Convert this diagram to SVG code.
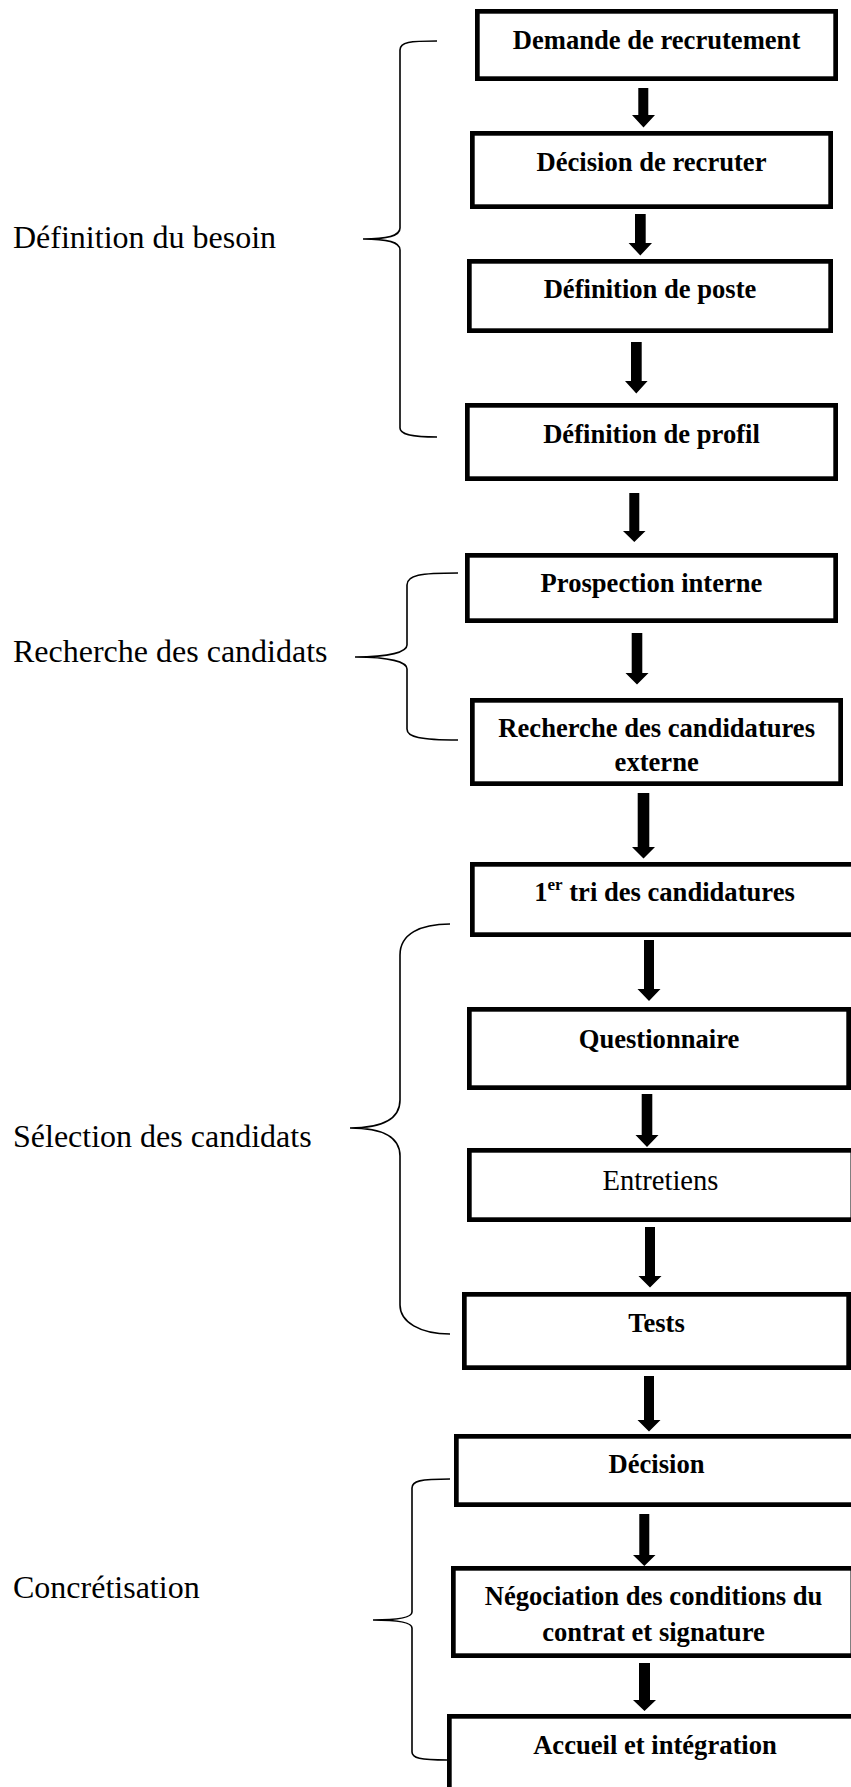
<svg xmlns="http://www.w3.org/2000/svg" width="851" height="1787" viewBox="0 0 851 1787">
<style>
.box{fill:#fff;stroke:#000;stroke-width:4.7}
.bt{font-family:"Liberation Serif","Times New Roman",serif;font-weight:bold;font-size:26.6px;text-anchor:middle;fill:#000}
.rt{font-family:"Liberation Serif","Times New Roman",serif;font-size:28.6px;text-anchor:middle;fill:#000}
.lbl{font-family:"Liberation Serif","Times New Roman",serif;font-size:32px;fill:#000}
.brace{fill:none;stroke:#000;stroke-width:1.6}
.arr{fill:#000}
</style>
<rect width="851" height="1787" fill="#fff"/>
<g id="labels">
<text class="lbl" x="13" y="248">Définition du besoin</text>
<text class="lbl" x="13" y="662">Recherche des candidats</text>
<text class="lbl" x="13" y="1147">Sélection des candidats</text>
<text class="lbl" x="13" y="1598">Concrétisation</text>
</g>
<g id="braces">
<path class="brace" d="M437,41 C410,41 400,42 400,50 L400,228 C400,236 388,239 363,239 C388,239 400,242 400,250 L400,428 C400,434 410,437 437,437"/>
<path class="brace" d="M458,573 C420,573 407,575 407,585 L407,645 C407,652 390,657 355,657 C390,657 407,662 407,669 L407,729 C407,737 420,740 458,740"/>
<path class="brace" d="M450,924 C420,924 400,934 400,955 L400,1100 C400,1120 380,1128 350,1128 C380,1128 400,1136 400,1156 L400,1305 C400,1322 420,1334 450,1334"/>
<path class="brace" d="M450,1479 C420,1479 412,1481 412,1488 L412,1612 C412,1617 400,1620 373,1620 C400,1620 412,1623 412,1628 L412,1752 C412,1758 420,1760 447,1760"/>
</g>
<g id="connectors">
<polygon class="arr" points="638.3,88 648.3,88 648.3,115 655,115 643.5,127.5 632,115 638.3,115"/>
<polygon class="arr" points="635,214 645.7,214 645.7,243 652,243 640.3,255.5 628.6,243 635,243"/>
<polygon class="arr" points="631,342 641.7,342 641.7,381 647.6,381 636.3,393.5 625,381 631,381"/>
<polygon class="arr" points="629.3,493 639.3,493 639.3,531 645.5,531 634.3,542 623,531 629.3,531"/>
<polygon class="arr" points="631.7,633 642.3,633 642.3,673 648.5,673 637,684.5 625.5,673 631.7,673"/>
<polygon class="arr" points="637.7,793 649.3,793 649.3,847 655,847 643.5,858.5 632,847 637.7,847"/>
<polygon class="arr" points="644,940 654,940 654,989 660.5,989 649,1001 637.5,989 644,989"/>
<polygon class="arr" points="641.7,1094 652.3,1094 652.3,1135 658.5,1135 647,1147 635.5,1135 641.7,1135"/>
<polygon class="arr" points="645,1227 655,1227 655,1276 661.5,1276 650,1287.5 638.5,1276 645,1276"/>
<polygon class="arr" points="644,1376 654,1376 654,1420 660.5,1420 649,1431.5 637.5,1420 644,1420"/>
<polygon class="arr" points="639.3,1514 649.3,1514 649.3,1555 655.5,1555 644.3,1566 633,1555 639.3,1555"/>
<polygon class="arr" points="639,1663 650,1663 650,1700 656,1700 644.5,1711 633,1700 639,1700"/>
</g>
<g id="n1"><rect class="box" x="477.35" y="11.35" width="358.3" height="67.3"/><text class="bt" x="656.5" y="49">Demande de recrutement</text></g>
<g id="n2"><rect class="box" x="472.35" y="133.35" width="358.3" height="73.3"/><text class="bt" x="651.5" y="171">Décision de recruter</text></g>
<g id="n3"><rect class="box" x="469.35" y="261.35" width="361.3" height="69.3"/><text class="bt" x="650" y="298">Définition de poste</text></g>
<g id="n4"><rect class="box" x="467.35" y="405.35" width="368.3" height="73.3"/><text class="bt" x="651.5" y="443">Définition de profil</text></g>
<g id="n5"><rect class="box" x="467.35" y="555.35" width="368.3" height="65.3"/><text class="bt" x="651.5" y="592">Prospection interne</text></g>
<g id="n6"><rect class="box" x="472.35" y="700.35" width="368.3" height="83.3"/><text class="bt" x="656.7" y="737">Recherche des candidatures</text><text class="bt" x="656.7" y="771">externe</text></g>
<g id="n7"><rect class="box" x="472.35" y="864.35" width="384.3" height="70.3"/><text class="bt" x="664.5" y="901">1<tspan font-size="17" dy="-11">er</tspan><tspan dy="11"> tri des candidatures</tspan></text></g>
<g id="n8"><rect class="box" x="469.35" y="1009.35" width="379.3" height="78.3"/><text class="bt" x="659" y="1048">Questionnaire</text></g>
<g id="n9"><rect class="box" x="469.35" y="1150.35" width="383.5" height="69.3"/><text class="rt" x="660.5" y="1190">Entretiens</text></g>
<g id="n10"><rect class="box" x="464.35" y="1294.35" width="384.3" height="73.3"/><text class="bt" x="656.5" y="1332">Tests</text></g>
<g id="n11"><rect class="box" x="456.35" y="1436.35" width="400.3" height="68.3"/><text class="bt" x="656.5" y="1473">Décision</text></g>
<g id="n12"><rect class="box" x="453.35" y="1568.35" width="399.5" height="87.3"/><text class="bt" x="653.5" y="1605">Négociation des conditions du</text><text class="bt" x="653.5" y="1641">contrat et signature</text></g>
<g id="n13"><rect class="box" x="449.35" y="1716.35" width="411.3" height="90"/><text class="bt" x="655" y="1754">Accueil et intégration</text></g>
</svg>
